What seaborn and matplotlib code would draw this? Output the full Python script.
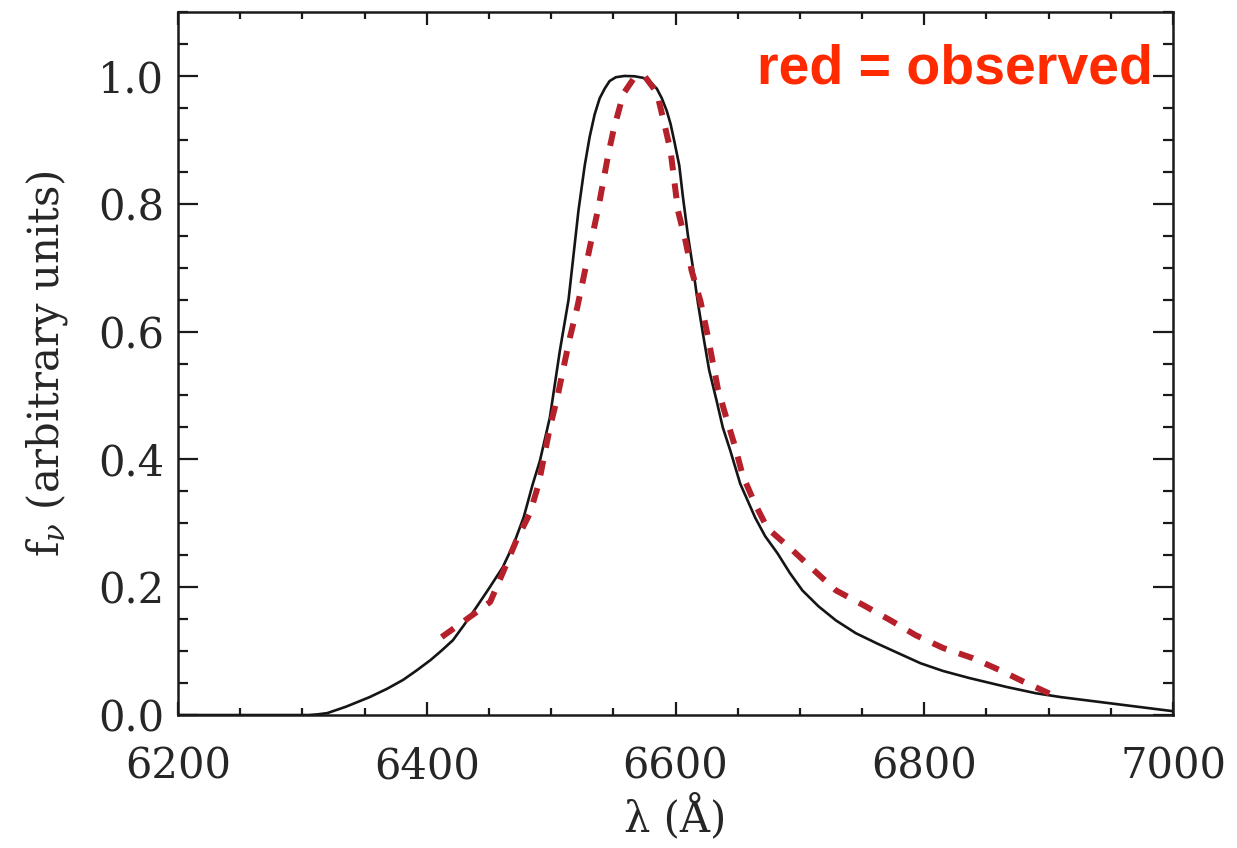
import matplotlib
matplotlib.use("Agg")
import matplotlib.pyplot as plt
from matplotlib.ticker import MultipleLocator, FormatStrFormatter
import seaborn as sns

# =========================
# Datos (perfil de linea H-alpha)
# =========================
# modelo (linea negra continua)
wl_modelo = [6200, 6305, 6312, 6320, 6335, 6354, 6368, 6381, 6392, 6403, 6412,
             6421, 6430, 6440, 6450, 6461, 6470, 6478, 6485, 6491, 6499, 6507,
             6514, 6518, 6522, 6527, 6531, 6535, 6539, 6543, 6547, 6552, 6559,
             6567, 6574, 6580, 6585, 6589, 6593, 6596, 6599, 6603, 6606, 6610,
             6614, 6618, 6622, 6627, 6633, 6638, 6644, 6652, 6664, 6672, 6682,
             6692, 6702, 6715, 6729, 6745, 6762, 6780, 6797, 6815, 6836, 6866,
             6890, 6910, 6955, 7000]
flujo_modelo = [0.0, 0.0, 0.001, 0.003, 0.013, 0.028, 0.041, 0.055, 0.070, 0.086,
                0.101, 0.117, 0.141, 0.169, 0.198, 0.231, 0.268, 0.31, 0.36, 0.398,
                0.466, 0.57, 0.65, 0.72, 0.79, 0.86, 0.905, 0.94, 0.965, 0.98,
                0.992, 0.998, 1.0, 0.9995, 0.997, 0.99, 0.98, 0.965, 0.945, 0.925,
                0.898, 0.86, 0.81, 0.75, 0.70, 0.645, 0.597, 0.54, 0.492, 0.45,
                0.414, 0.362, 0.309, 0.28, 0.253, 0.222, 0.195, 0.17, 0.148, 0.128,
                0.112, 0.096, 0.081, 0.069, 0.058, 0.044, 0.034, 0.028, 0.017,
                0.006]

# observado (linea roja discontinua)
wl_obs = [6412, 6440, 6451, 6461, 6472, 6483, 6490, 6499, 6505, 6510, 6515, 6521,
          6526, 6531, 6538, 6546, 6550, 6558, 6566, 6575, 6585, 6591, 6596, 6602,
          6608, 6613, 6620, 6625, 6634, 6641, 6648, 6654, 6664, 6674, 6694, 6711,
          6729, 6751, 6773, 6793, 6815, 6839, 6861, 6880, 6907]
flujo_obs = [0.122, 0.161, 0.177, 0.222, 0.273, 0.316, 0.362, 0.45, 0.497, 0.544,
             0.59, 0.638, 0.684, 0.731, 0.794, 0.878, 0.914, 0.972, 0.995, 1.0,
             0.974, 0.925, 0.883, 0.789, 0.742, 0.695, 0.648, 0.602, 0.511, 0.464,
             0.419, 0.375, 0.33, 0.292, 0.258, 0.227, 0.195, 0.172, 0.148, 0.125,
             0.105, 0.089, 0.070, 0.052, 0.028]

sns.set_theme(style="ticks")
plt.rcParams['font.family'] = ['DejaVu Serif']
plt.rcParams['mathtext.fontset'] = 'dejavuserif'

fig = plt.figure(figsize=(12.37, 8.48), dpi=100)
ax = fig.add_axes([0.1439, 0.1568, 0.8044, 0.8290])

sns.lineplot(x=wl_modelo, y=flujo_modelo, ax=ax, color='#151515', lw=1.9,
             sort=False, estimator=None)
sns.lineplot(x=wl_obs, y=flujo_obs, ax=ax, color='#b5202a', lw=4.3,
             linestyle=(0, (2.5, 2.2)), sort=False, estimator=None)

ax.set_xlim(6200, 7000)
ax.set_ylim(0, 1.1)

ax.xaxis.set_major_locator(MultipleLocator(200))
ax.xaxis.set_minor_locator(MultipleLocator(50))
ax.yaxis.set_major_locator(MultipleLocator(0.2))
ax.yaxis.set_minor_locator(MultipleLocator(0.05))
ax.yaxis.set_major_formatter(FormatStrFormatter('%.1f'))

ax.tick_params(which='both', direction='in', top=True, right=True,
               color='#1a1a1a', width=1.6)
ax.tick_params(axis='x', which='major', length=9.5, pad=22, labelsize=30)
ax.tick_params(axis='x', which='minor', length=5)
ax.tick_params(axis='y', which='major', length=14.5, pad=10, labelsize=30)
ax.tick_params(axis='y', which='minor', length=7.2)

for s in ax.spines.values():
    s.set_linewidth(1.8)
    s.set_color('#1a1a1a')

ax.set_xlabel('λ (Å)', fontsize=30, labelpad=4)
ax.set_ylabel(r'f$_\nu$ (arbitrary units)', fontsize=30, labelpad=20)

ax.text(0.98, 0.899, 'red = observed', transform=ax.transAxes, ha='right',
        va='baseline', fontsize=40, fontweight='bold', color='#ff2a00',
        family=['Liberation Sans', 'DejaVu Sans'])

fig.savefig('out.png', dpi=100)
